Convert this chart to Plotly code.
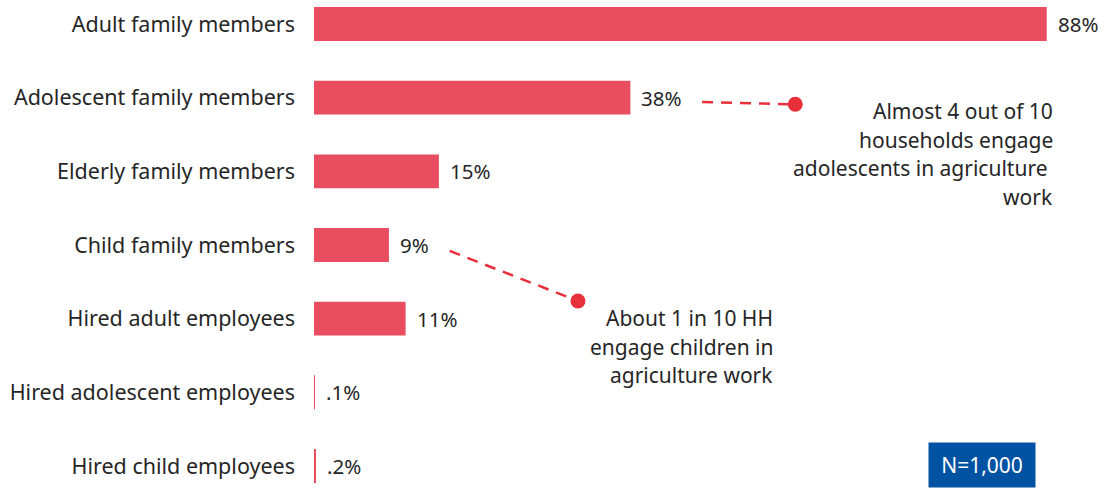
import plotly.graph_objects as go

# Share of households by type of labour engaged in agriculture work
categories = [
    "Adult family members",
    "Adolescent family members",
    "Elderly family members",
    "Child family members",
    "Hired adult employees",
    "Hired adolescent employees",
    "Hired child employees",
]
values = [88, 38, 15, 9, 11, 0.1, 0.2]
value_labels = ["88%", "38%", "15%", "9%", "11%", ".1%", ".2%"]

callout_adolescent = ["Almost 4 out of 10", "households engage",
                      "adolescents in agriculture\u00a0", "work"]
callout_child = ["About 1 in 10 HH", "engage children in", "agriculture work"]

BAR_RED = "#E84E60"
LINE_RED = "#E8303A"
TEXT = "#262626"
FONT = "Noto Sans"

positions = list(range(len(categories)))

fig = go.Figure()
fig.add_trace(go.Bar(
    x=values, y=positions, orientation="h",
    marker=dict(color=BAR_RED, line=dict(width=0)),
    width=0.46, hoverinfo="skip",
))

# value labels at the end of each bar
for pos, v, lab in zip(positions, values, value_labels):
    fig.add_annotation(x=v, y=pos, text=lab, showarrow=False,
                       xanchor="left", yanchor="middle", xshift=9,
                       font=dict(family=FONT, size=20.5, color=TEXT))

# dashed callout connectors with a dot at the far end
connectors = [
    ((46.6, 1.06), (57.8, 1.09)),
    ((16.3, 3.08), (31.7, 3.76)),
]
for (x0, y0), (x1, y1) in connectors:
    fig.add_trace(go.Scatter(
        x=[x0, x1], y=[y0, y1], mode="lines",
        line=dict(color=LINE_RED, width=2.5, dash="11px,8px"),
        hoverinfo="skip",
    ))
    fig.add_trace(go.Scatter(
        x=[x1], y=[y1], mode="markers",
        marker=dict(color=LINE_RED, size=15, line=dict(width=0)),
        hoverinfo="skip",
    ))

# callout text blocks, right aligned, one line each
def add_block(lines, x, y, spacing=28.7):
    for i, line in enumerate(lines):
        fig.add_annotation(x=x, y=y, text=line, showarrow=False,
                           xanchor="right", yanchor="middle",
                           yshift=-i * spacing,
                           font=dict(family=FONT, size=21, color=TEXT))

add_block(callout_adolescent, 89.0, (111 - 24) / 73.67)
add_block(callout_child, 55.4, (318 - 24) / 73.67)

# sample size badge
fig.add_annotation(x=80.2, y=(465 - 24) / 73.67, text="N=1,000", showarrow=False,
                   xanchor="center", yanchor="middle",
                   bgcolor="#0052A3", borderpad=3, width=100, height=38,
                   font=dict(family=FONT, size=21, color="white"))

fig.update_layout(
    width=1105, height=488,
    margin=dict(l=314, r=0, t=0, b=0),
    paper_bgcolor="white", plot_bgcolor="white",
    showlegend=False,
    xaxis=dict(range=[0, 95], visible=False, fixedrange=True),
    yaxis=dict(
        range=[6.299, -0.326],
        tickmode="array", tickvals=positions, ticktext=categories,
        showgrid=False, zeroline=False, showline=False, ticks="",
        ticklabelstandoff=18,
        tickfont=dict(family=FONT, size=21.5, color=TEXT),
        fixedrange=True,
    ),
    font=dict(family=FONT),
)

fig.write_html("out.html", config={"displayModeBar": False})
